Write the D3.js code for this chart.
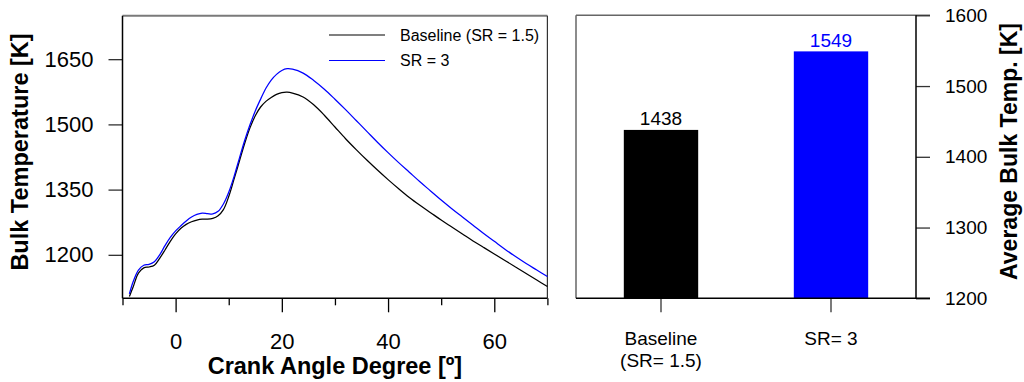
<!DOCTYPE html>
<html><head><meta charset="utf-8">
<script src="https://cdn.jsdelivr.net/npm/d3@7"></script>
<style>
body{margin:0;background:#fff}
svg{display:block}
text{font-family:"Liberation Sans",Arial,Helvetica,sans-serif}
</style>
</head><body>
<svg id="chart" width="1024" height="382"></svg>
<script>
// ---------- data ----------
const crankAngles = [-8.7,-8,-7,-6,-5,-4,-3,-2,-1,0,1,2,3,4,5,6,7,8,9,10,11,12,13,14,15,16,17,18,19,20,21,22,24,26,28,30,32,34,36,38,40,42,44,46,48,50,52,54,56,58,60,62,64,66,68,70];
const tempBaseline = [1104,1126,1158,1170,1172,1176,1192,1211,1231,1248,1261,1270,1276,1280,1282,1282,1284,1290,1304,1334,1374,1415,1456,1492,1520,1540,1553,1562,1569,1573,1574,1572,1563,1545,1521,1494,1467,1442,1418,1395,1373,1352,1332,1314,1297,1280,1264,1248,1232,1217,1202,1187,1172,1157,1142,1127];
const tempSR3 = [1110,1138,1165,1176,1178,1184,1200,1221,1240,1255,1267,1278,1287,1293,1296,1295,1294,1300,1317,1344,1380,1422,1463,1499,1531,1558,1583,1602,1615,1624,1628,1627,1618,1601,1581,1558,1534,1509,1484,1459,1435,1412,1390,1368,1347,1326,1306,1287,1268,1249,1231,1213,1196,1180,1165,1150];
const seriesNames = ["Baseline (SR = 1.5)", "SR = 3"];
const seriesColors = ["#000000", "#0000ff"];
const xTicksMajor = [0, 20, 40, 60];
const xTicksMinor = [-10, 10, 30, 50, 70];
const yTicksLeft = [1200, 1350, 1500, 1650];

const barCategories = ["Baseline (SR= 1.5)", "SR= 3"];
const barCategoryLines = [["Baseline", "(SR= 1.5)"], ["SR= 3"]];
const barValues = [1438, 1549];
const yTicksRight = [1200, 1300, 1400, 1500, 1600];

// ---------- setup ----------
const svg = d3.select("#chart");
const L = {left: 122.5, right: 547.4, top: 15.7, bottom: 298.3};
const R = {left: 576, right: 916, top: 15.3, bottom: 298.3};

// ---------- left panel ----------
const x = d3.scaleLinear().domain([-10, 70]).range([L.left, L.right]);
const y = d3.scaleLinear().domain([1100, 1750]).range([L.bottom, L.top]);

svg.append("line").attr("x1", L.left).attr("x2", L.right).attr("y1", L.top).attr("y2", L.top)
  .attr("stroke", "#7a7a7a").attr("stroke-width", 2);
svg.append("line").attr("x1", L.right).attr("x2", L.right).attr("y1", L.top).attr("y2", L.bottom)
  .attr("stroke", "#333").attr("stroke-width", 1.2);

const gyL = svg.append("g").attr("transform", `translate(${L.left},0)`)
  .call(d3.axisLeft(y).tickValues(yTicksLeft).tickFormat(d3.format("d")).tickSize(14).tickPadding(15).tickSizeOuter(0));
gyL.select(".domain").remove();
gyL.selectAll(".tick line").attr("stroke", "#333").attr("stroke-width", 1.3);
gyL.selectAll("text").attr("font-size", 22).attr("fill", "#000");
svg.append("line").attr("x1", L.left).attr("x2", L.left).attr("y1", L.top).attr("y2", L.bottom)
  .attr("stroke", "#000").attr("stroke-width", 1.5);

const gxL = svg.append("g").attr("transform", `translate(0,${L.bottom})`)
  .call(d3.axisBottom(x).tickValues(xTicksMajor).tickFormat(d3.format("d")).tickSize(14).tickPadding(21).tickSizeOuter(0));
gxL.select(".domain").remove();
gxL.selectAll(".tick line").attr("stroke", "#000").attr("stroke-width", 1.3);
gxL.selectAll("text").attr("font-size", 22).attr("fill", "#000");
const gxLm = svg.append("g").attr("transform", `translate(0,${L.bottom})`)
  .call(d3.axisBottom(x).tickValues(xTicksMinor).tickFormat("").tickSize(7).tickSizeOuter(0));
gxLm.select(".domain").remove();
gxLm.selectAll(".tick line").attr("stroke", "#000").attr("stroke-width", 1.3);
svg.append("line").attr("x1", L.left).attr("x2", L.right).attr("y1", L.bottom).attr("y2", L.bottom)
  .attr("stroke", "#000").attr("stroke-width", 1.5);

const line = d3.line().x(d => x(d[0])).y(d => y(d[1])).curve(d3.curveCatmullRom.alpha(0.5));
[tempBaseline, tempSR3].forEach((vals, i) => {
  svg.append("path")
    .datum(crankAngles.map((a, j) => [a, vals[j]]))
    .attr("fill", "none").attr("stroke", seriesColors[i]).attr("stroke-width", 1.25)
    .attr("d", line);
});

seriesNames.forEach((name, i) => {
  const ly = 35 + i * 25.5;
  svg.append("line").attr("x1", 329).attr("x2", 385).attr("y1", ly).attr("y2", ly)
    .attr("stroke", seriesColors[i]).attr("stroke-width", 1.2);
  svg.append("text").attr("x", 400).attr("y", ly + 5.7).attr("font-size", 16).attr("fill", "#000").text(name);
});

svg.append("text").attr("x", (L.left + L.right) / 2).attr("y", 374).attr("text-anchor", "middle")
  .attr("font-size", 23.5).attr("font-weight", "bold").text("Crank Angle Degree [º]");
svg.append("text").attr("transform", "translate(28,152) rotate(-90)").attr("text-anchor", "middle")
  .attr("font-size", 23.5).attr("font-weight", "bold").text("Bulk Temperature [K]");

// ---------- right panel ----------
const xb = d3.scaleBand().domain(barCategories).range([R.left, R.right]).paddingInner(0.5625).paddingOuter(0.28125);
const yb = d3.scaleLinear().domain([1200, 1600]).range([R.bottom, R.top]);

svg.selectAll("rect.bar").data(barCategories).enter().append("rect")
  .attr("class", "bar")
  .attr("x", d => xb(d)).attr("width", xb.bandwidth())
  .attr("y", (d, i) => yb(barValues[i])).attr("height", (d, i) => yb(1200) - yb(barValues[i]))
  .attr("fill", (d, i) => seriesColors[i]);

svg.selectAll("text.val").data(barCategories).enter().append("text")
  .attr("class", "val")
  .attr("x", d => xb(d) + xb.bandwidth() / 2).attr("y", (d, i) => yb(barValues[i]) - 4.5)
  .attr("text-anchor", "middle").attr("font-size", 19)
  .attr("fill", (d, i) => seriesColors[i]).text((d, i) => barValues[i]);

svg.append("line").attr("x1", R.left).attr("x2", R.left).attr("y1", R.top).attr("y2", R.bottom)
  .attr("stroke", "#666").attr("stroke-width", 1.5);
svg.append("line").attr("x1", R.left).attr("x2", R.right + 14).attr("y1", R.top).attr("y2", R.top)
  .attr("stroke", "#666").attr("stroke-width", 1.5);

const gyR = svg.append("g").attr("transform", `translate(${R.right},0)`)
  .call(d3.axisRight(yb).tickValues(yTicksRight).tickFormat(d3.format("d")).tickSize(14).tickPadding(15).tickSizeOuter(0));
gyR.select(".domain").remove();
gyR.selectAll(".tick line").attr("stroke", "#333").attr("stroke-width", 1.3);
gyR.selectAll("text").attr("font-size", 19).attr("fill", "#000");
svg.append("line").attr("x1", R.right).attr("x2", R.right).attr("y1", R.top).attr("y2", R.bottom)
  .attr("stroke", "#000").attr("stroke-width", 1.5);

const gxR = svg.append("g").attr("transform", `translate(0,${R.bottom})`)
  .call(d3.axisBottom(xb).tickSize(14).tickFormat("").tickSizeOuter(0));
gxR.select(".domain").remove();
gxR.selectAll(".tick line").attr("stroke", "#333").attr("stroke-width", 1.3);
svg.append("line").attr("x1", R.left).attr("x2", R.right + 14).attr("y1", R.bottom).attr("y2", R.bottom)
  .attr("stroke", "#000").attr("stroke-width", 1.5);

barCategories.forEach((c, i) => {
  barCategoryLines[i].forEach((t, k) => {
    svg.append("text").attr("x", xb(c) + xb.bandwidth() / 2).attr("y", 345 + k * 21.7)
      .attr("text-anchor", "middle").attr("font-size", 19).attr("fill", "#000").text(t);
  });
});

svg.append("text").attr("transform", "translate(1016.5,151.5) rotate(-90)").attr("text-anchor", "middle")
  .attr("font-size", 23).attr("font-weight", "bold").text("Average Bulk Temp. [K]");
</script>
</body></html>
